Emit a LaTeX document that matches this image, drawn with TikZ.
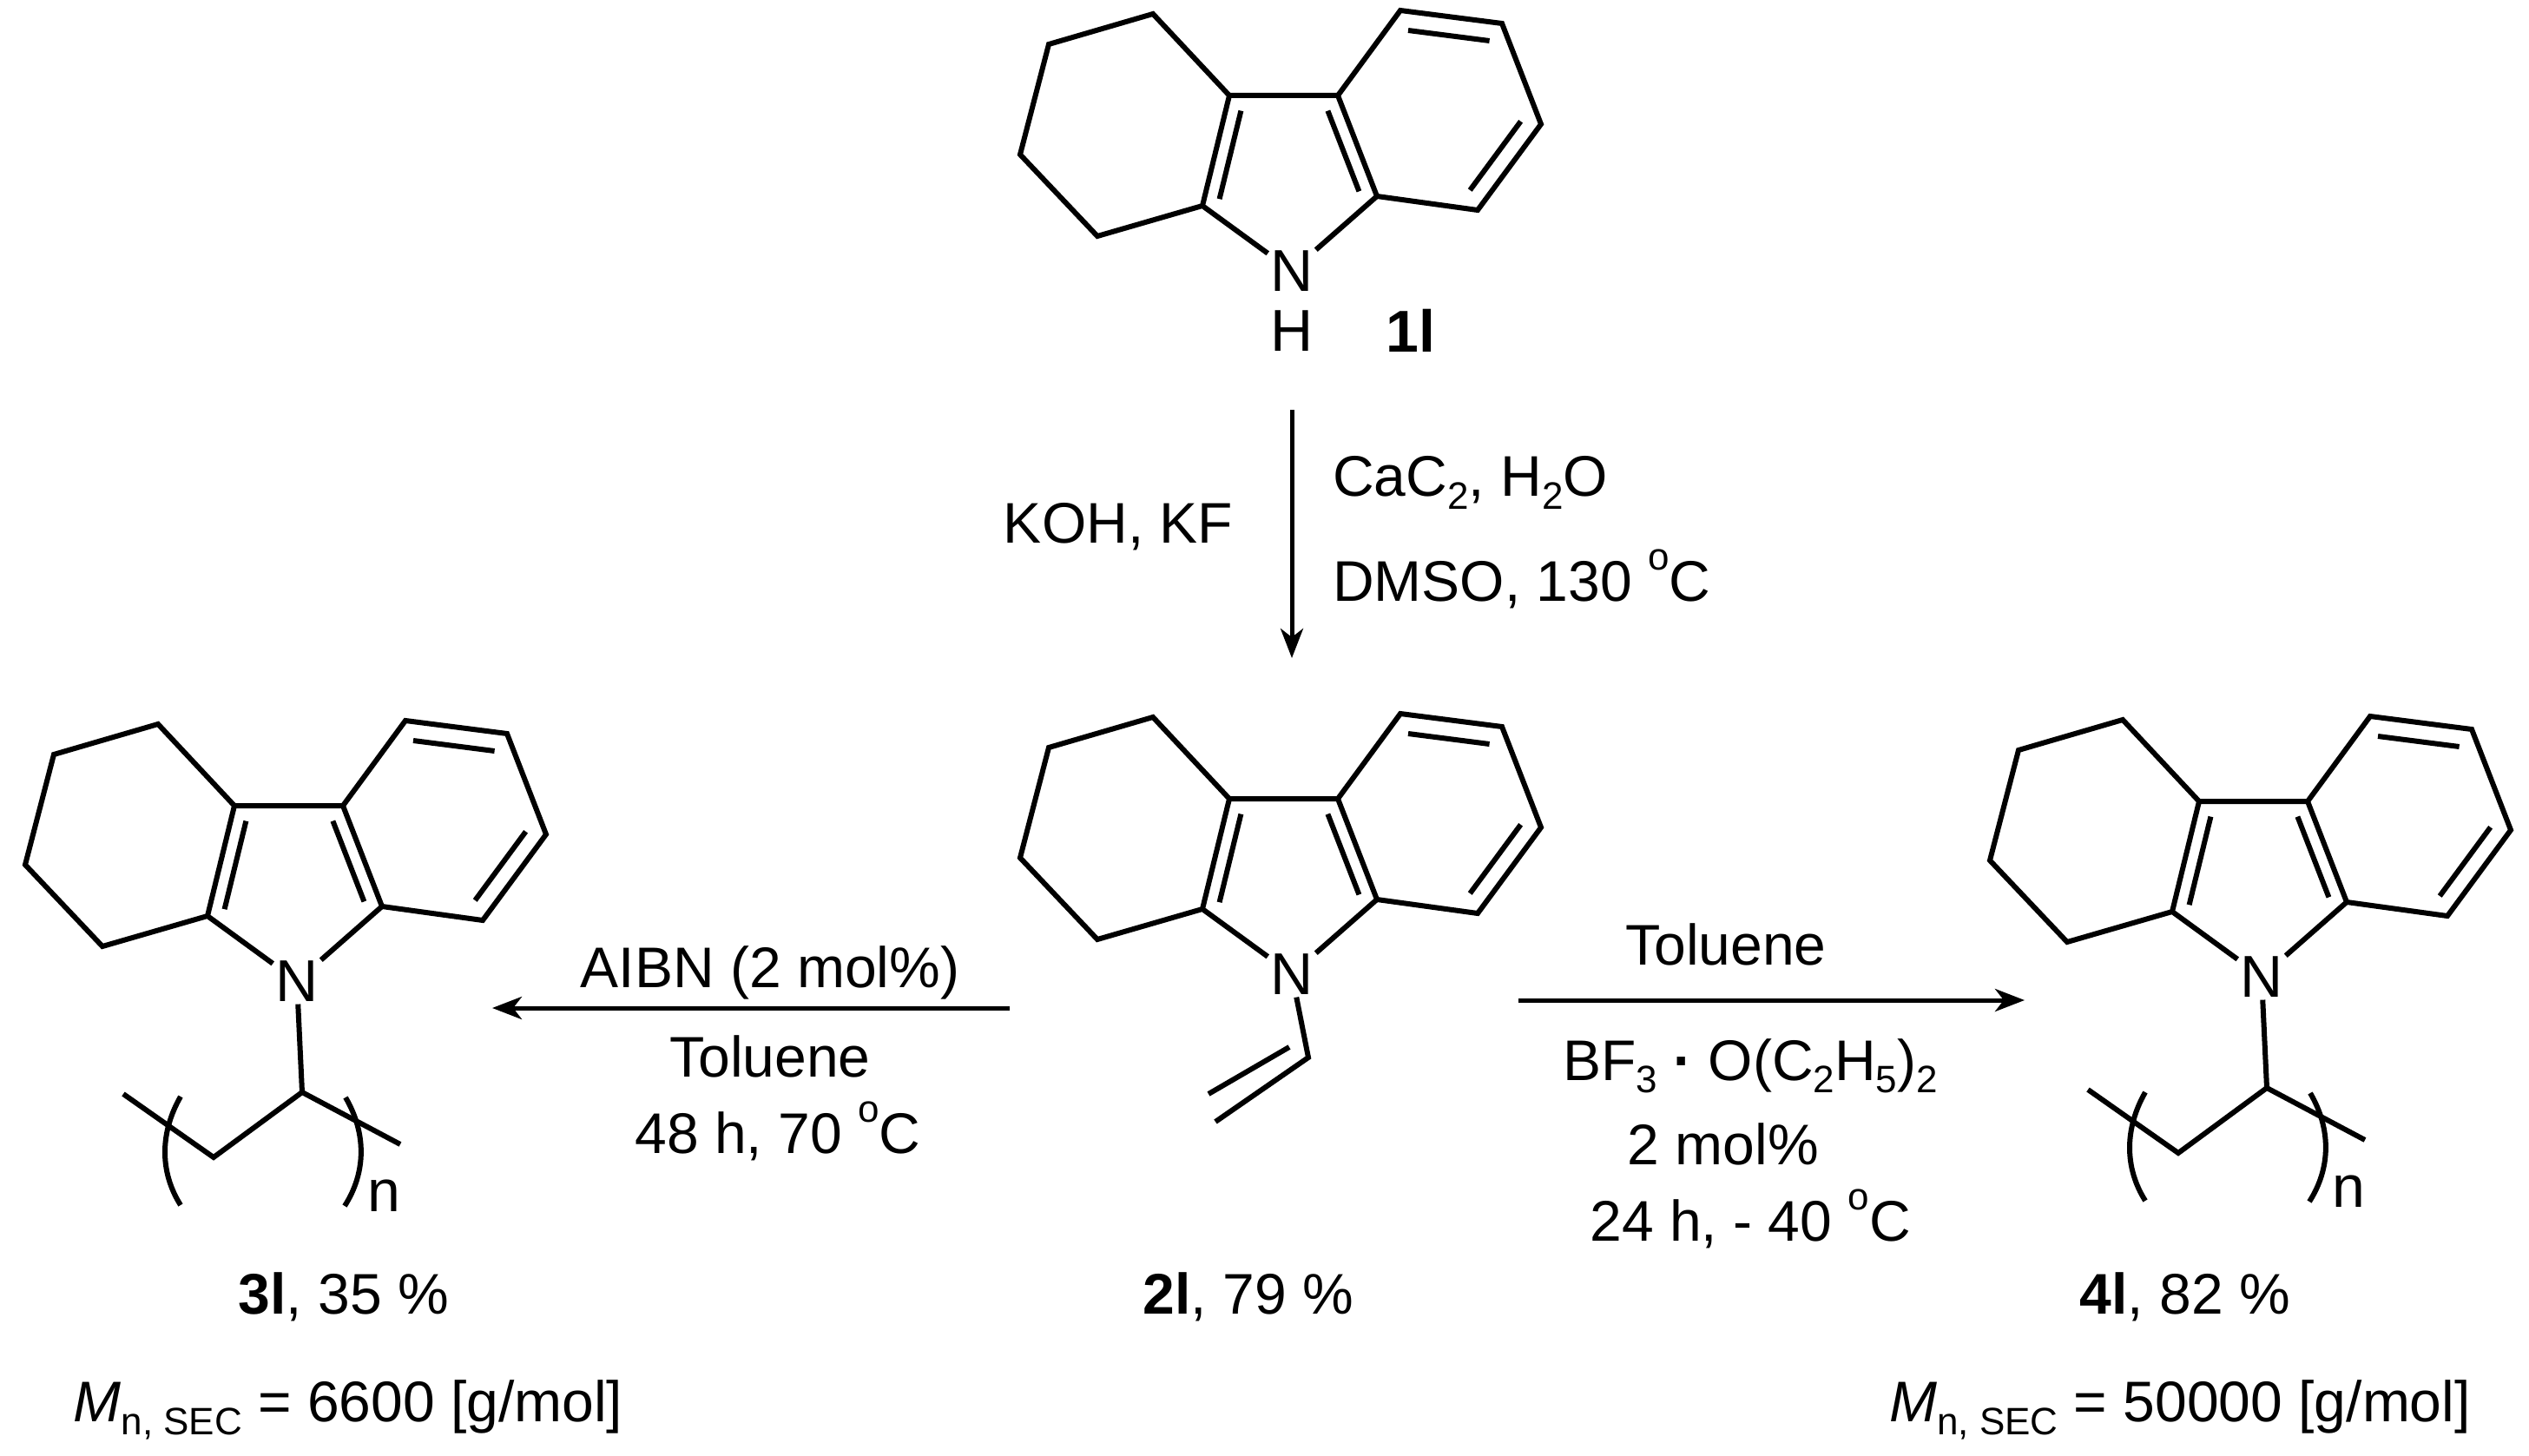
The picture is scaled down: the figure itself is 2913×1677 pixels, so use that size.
\documentclass[tikz,border=0pt]{standalone}
\usepackage{fontspec}
\setmainfont{Liberation Sans}
\usetikzlibrary{calc,arrows.meta}
\newcommand\mysub[1]{\raisebox{-0.22em}{\fontsize{44}{48}\selectfont #1}}
\newcommand\mysup[1]{\raisebox{0.55em}{\fontsize{44}{48}\selectfont #1}}
\tikzset{x=1pt,y=-1pt,
  bond/.style={line width=6pt,line cap=butt,line join=miter},
  atom/.style={inner sep=3pt,font=\fontsize{68}{72}\selectfont},
  lbl/.style={inner sep=0pt,font=\fontsize{66}{72}\selectfont},
  rxn/.style={line width=5pt,-{Stealth[length=34pt,width=26pt,inset=10pt]}}}
\newcommand\inner[3]{\draw[bond] ($(#1)!0.2!(#3)$) -- ($(#2)!0.2!(#3)$);}
\newcommand\mycarb[3]{%
\begin{scope}[shift={(#2,#3)}]
\node[atom] (#1N) at (0,0) {N};
\coordinate (#1a) at (-72,-202);
\coordinate (#1b) at (53,-202);
\coordinate (#1c) at (98,-86);
\coordinate (#1d) at (-103,-75);
\coordinate (#1h1) at (-160,-296);
\coordinate (#1h2) at (-280,-261);
\coordinate (#1h3) at (-313,-134);
\coordinate (#1h4) at (-224,-40);
\coordinate (#1r1) at (125,-300);
\coordinate (#1r2) at (242,-285);
\coordinate (#1r3) at (287,-169);
\coordinate (#1r4) at (214,-70);
\coordinate (#1pc) at (-5,-114);
\coordinate (#1bc) at (170,-185);
\draw[bond] (#1N) -- (#1d) -- (#1h4) -- (#1h3) -- (#1h2) -- (#1h1) -- (#1a) -- (#1d);
\draw[bond] (#1a) -- (#1b) -- (#1c) -- (#1N);
\draw[bond] (#1b) -- (#1r1) -- (#1r2) -- (#1r3) -- (#1r4) -- (#1c);
\inner{#1d}{#1a}{#1pc}\inner{#1b}{#1c}{#1pc}
\inner{#1r1}{#1r2}{#1bc}\inner{#1r3}{#1r4}{#1bc}
\end{scope}}
\newcommand\mypoly[3]{%
\begin{scope}[shift={(#2,#3)}]
\coordinate (#1ch) at (6,128);
\coordinate (#1e1) at (-200,130);
\coordinate (#1e2) at (-96,203);
\coordinate (#1e3) at (119,188);
\draw[bond] (#1N) -- (#1ch);
\draw[bond] (#1e1) -- (#1e2) -- (#1ch) -- (#1e3);
\draw[bond] (-134,133) .. controls (-158,175) and (-158,220) .. (-134,258);
\draw[bond] (56,134) .. controls (80,175) and (80,220) .. (55,259);
\node[atom] (#1n) at (100,247) {n};
\end{scope}}
\begin{document}
\begin{tikzpicture}
\useasboundingbox (0,0) rectangle (2913,1677);
% 1l
\mycarb{A}{1488}{312}
\node[atom] (AH) at (1488,381) {H};
\node[atom,font=\fontsize{68}{72}\selectfont\bfseries] (Alab) at (1625,381) {1l};
% 3l
\mycarb{L}{342}{1130}
\mypoly{L}{342}{1130}
% 2l
\mycarb{M}{1488}{1122}
\coordinate (Mv1) at (1507,1218);
\coordinate (Mv2) at (1400,1292);
\draw[bond] (MN) -- (Mv1) -- (Mv2);
\draw[bond] ($(Mv1)+(-22,-12)$) -- ($(Mv2)+(-8,-32)$);
% 4l
\mycarb{R}{2605}{1125}
\mypoly{R}{2605}{1125}
% arrows
\coordinate (d1) at (1488,472);
\coordinate (d2) at (1488,758);
\draw[rxn] (d1) -- (d2);
\coordinate (l1) at (1163,1161);
\coordinate (l2) at (567,1161);
\draw[rxn] (l1) -- (l2);
\coordinate (r1) at (1749,1152);
\coordinate (r2) at (2332,1152);
\draw[rxn] (r1) -- (r2);
% labels
\node[lbl] (t1) at (1288,607) {KOH, KF};
\node[lbl,anchor=west] (t2) at (1535,556) {CaC\mysub{2}, H\mysub{2}O};
\node[lbl,anchor=west] (t3) at (1535,667) {DMSO, 130 \mysup{o}C};
\node[lbl] (t4) at (887,1120) {AIBN (2 mol\%)};
\node[lbl] (t5) at (887,1217) {Toluene};
\node[lbl] (t6) at (896,1303) {48 h, 70 \mysup{o}C};
\node[lbl] (t7) at (1988,1088) {Toluene};
\node[lbl] (t8) at (2016,1228) {BF\mysub{3} {\bfseries·} O(C\mysub{2}H\mysub{5})\mysub{2}};
\node[lbl] (t9) at (1985,1318) {2 mol\%};
\node[lbl] (t10) at (2016,1404) {24 h, - 40 \mysup{o}C};
\node[lbl] (y3) at (396,1494) {\textbf{3l}, 35 \%};
\node[lbl] (m3) at (401,1624) {\textit{M}\mysub{n, SEC} = 6600 [g/mol]};
\node[lbl] (y2) at (1438,1494) {\textbf{2l}, 79 \%};
\node[lbl] (y4) at (2517,1494) {\textbf{4l}, 82 \%};
\node[lbl] (m4) at (2511,1624) {\textit{M}\mysub{n, SEC} = 50000 [g/mol]};
\end{tikzpicture}
\end{document}
